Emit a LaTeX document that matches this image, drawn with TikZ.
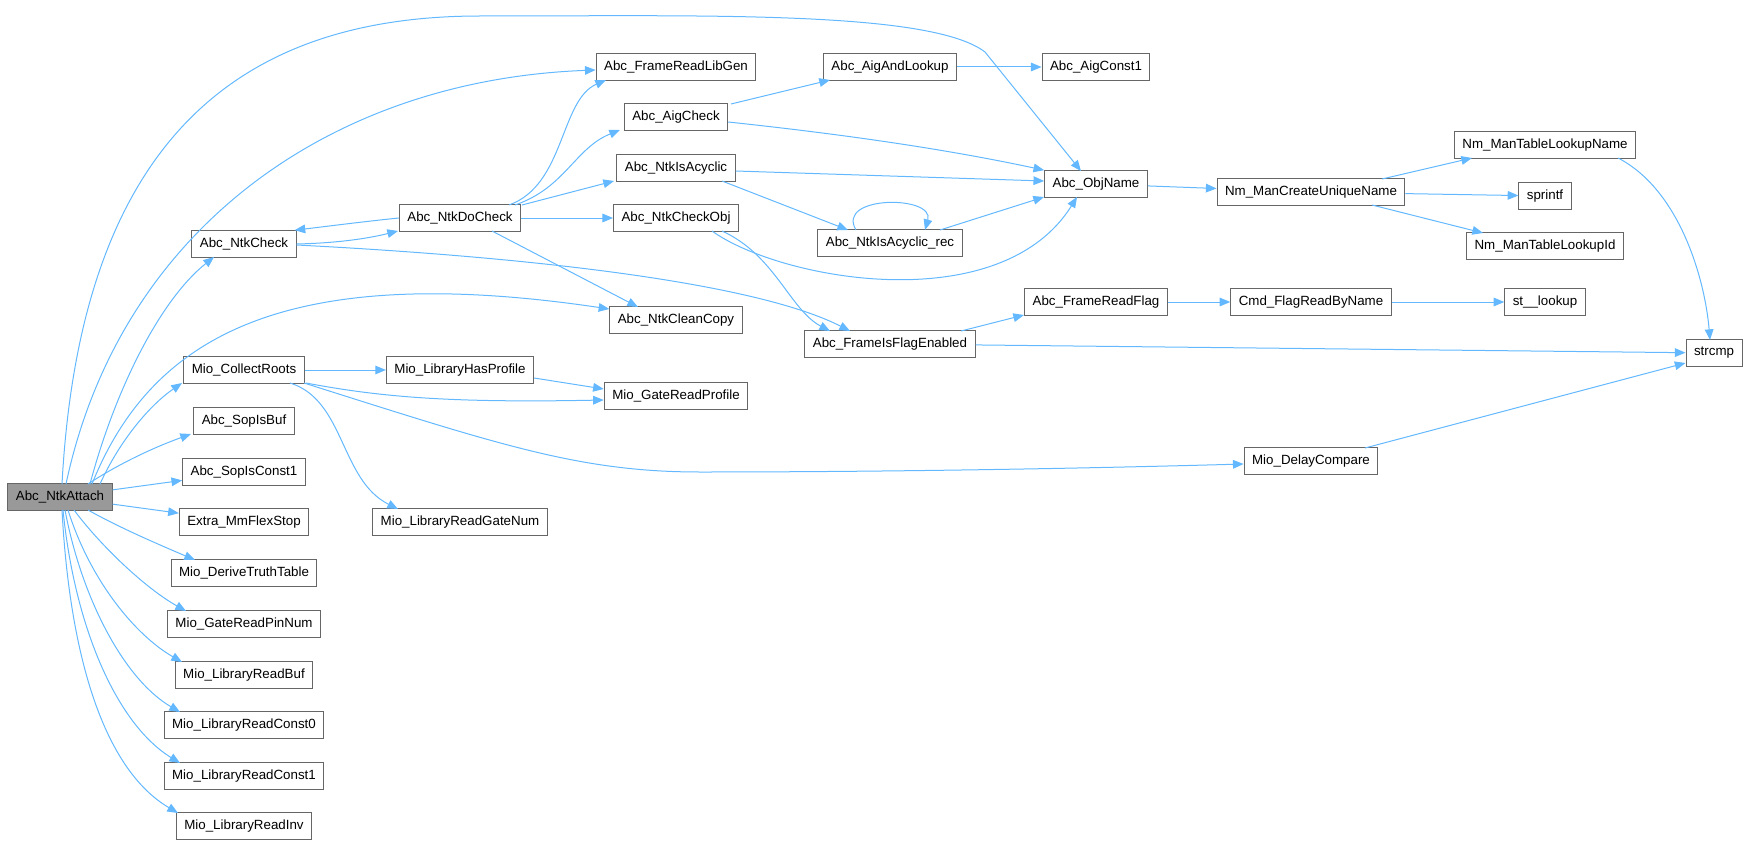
\documentclass[tikz,border=0pt]{standalone}
\usepackage{fontspec}
\setmainfont{Liberation Sans}
\usetikzlibrary{arrows.meta,calc}
\definecolor{edgeblue}{HTML}{63B8FF}
\definecolor{boxline}{HTML}{666666}
\definecolor{rootfill}{HTML}{999999}
\begin{document}
\begin{tikzpicture}[x=0.75pt,y=-0.75pt,
  fnnode/.style={rectangle, draw=boxline, fill=white, line width=0.75pt, inner xsep=6pt, inner ysep=0pt, minimum height=20pt, font=\fontsize{10}{12}\selectfont},
  rootnode/.style={fnnode, fill=rootfill},
  call/.style={-{Triangle[length=8pt,width=6.5pt]}, color=edgeblue, line width=0.75pt}]
  \useasboundingbox (0,0) rectangle (1751,845);
  \node[rootnode] at (60,497) (attach) {Abc\_NtkAttach};
  \node[fnnode] at (244,244) (ntkcheck) {Abc\_NtkCheck};
  \node[fnnode] at (244,370) (collectroots) {Mio\_CollectRoots};
  \node[fnnode] at (244,421) (sopisbuf) {Abc\_SopIsBuf};
  \node[fnnode] at (244,472) (sopisconst1) {Abc\_SopIsConst1};
  \node[fnnode] at (244,522) (flexstop) {Extra\_MmFlexStop};
  \node[fnnode] at (244,573) (derivetruth) {Mio\_DeriveTruthTable};
  \node[fnnode] at (244,624) (pinnum) {Mio\_GateReadPinNum};
  \node[fnnode] at (244,675) (readbuf) {Mio\_LibraryReadBuf};
  \node[fnnode] at (244,725) (const0) {Mio\_LibraryReadConst0};
  \node[fnnode] at (244,776) (const1) {Mio\_LibraryReadConst1};
  \node[fnnode] at (244,826) (readinv) {Mio\_LibraryReadInv};
  \node[fnnode] at (460,218) (dochk) {Abc\_NtkDoCheck};
  \node[fnnode] at (460,370) (hasprofile) {Mio\_LibraryHasProfile};
  \node[fnnode] at (460,522) (gatenum) {Mio\_LibraryReadGateNum};
  \node[fnnode] at (676,67) (readlibgen) {Abc\_FrameReadLibGen};
  \node[fnnode] at (676,117) (aigcheck) {Abc\_AigCheck};
  \node[fnnode] at (676,168) (isacyclic) {Abc\_NtkIsAcyclic};
  \node[fnnode] at (676,218) (checkobj) {Abc\_NtkCheckObj};
  \node[fnnode] at (676,320) (cleancopy) {Abc\_NtkCleanCopy};
  \node[fnnode] at (676,396) (readprofile) {Mio\_GateReadProfile};
  \node[fnnode] at (890,67) (andlookup) {Abc\_AigAndLookup};
  \node[fnnode] at (890,243) (acyclicrec) {Abc\_NtkIsAcyclic\_rec};
  \node[fnnode] at (890,344) (flagenabled) {Abc\_FrameIsFlagEnabled};
  \node[fnnode] at (1096,67) (aigconst1) {Abc\_AigConst1};
  \node[fnnode] at (1096,184) (objname) {Abc\_ObjName};
  \node[fnnode] at (1096,302) (readflag) {Abc\_FrameReadFlag};
  \node[fnnode] at (1311,192) (uniquename) {Nm\_ManCreateUniqueName};
  \node[fnnode] at (1311,302) (flagbyname) {Cmd\_FlagReadByName};
  \node[fnnode] at (1311,461) (delaycompare) {Mio\_DelayCompare};
  \node[fnnode] at (1545,145) (lookupname) {Nm\_ManTableLookupName};
  \node[fnnode] at (1545,196) (sprintf) {sprintf};
  \node[fnnode] at (1545,246) (lookupid) {Nm\_ManTableLookupId};
  \node[fnnode] at (1545,302) (stlookup) {st\_\_lookup};
  \node[fnnode] at (1714,353) (strcmp) {strcmp};
  % Lines from the root
  \draw[call] ($(attach)+(2,-13)$) .. controls (80,150) and (230,16) .. (480,16) .. controls (700,16) and (930,10) .. (985,52) -- ($(objname)+(-15,-13)$);
  \draw[call] ($(attach)+(6,-13)$) .. controls (120,230) and (330,80) .. ($(readlibgen.west)+(0,3)$);
  \draw[call] ($(attach)+(30,-13)$) .. controls (115,390) and (160,300) .. ($(ntkcheck)+(-30,13)$);
  \draw[call] ($(attach)+(32,-13)$) .. controls (150,340) and (280,260) .. ($(cleancopy.west)+(0,-11)$);
  \draw[call] ($(attach)+(40,-13)$) .. controls (120,440) and (150,405) .. ($(collectroots)+(-62,13)$);
  \draw[call] ($(attach)+(28,-13)$) .. controls (120,463) and (155,447) .. ($(sopisbuf)+(-53,13)$);
  \draw[call] (attach) -- (sopisconst1);
  \draw[call] (attach) -- (flexstop);
  \draw[call] ($(attach)+(28,13)$) .. controls (120,528) and (160,545) .. ($(derivetruth)+(-49,-13)$);
  \draw[call] ($(attach)+(14,13)$) .. controls (100,545) and (145,588) .. ($(pinnum)+(-58,-13)$);
  \draw[call] ($(attach)+(8,13)$) .. controls (90,580) and (135,635) .. ($(readbuf)+(-62,-13)$);
  \draw[call] ($(attach)+(5,13)$) .. controls (82,600) and (125,680) .. ($(const0)+(-64,-13)$);
  \draw[call] ($(attach)+(3,13)$) .. controls (75,630) and (118,725) .. ($(const1)+(-64,-13)$);
  \draw[call] ($(attach)+(2,13)$) .. controls (70,660) and (105,770) .. ($(readinv)+(-66,-13)$);
  % Checker lines
  \draw[call] (ntkcheck.east) .. controls (340,243) and (370,238) .. ($(dochk)+(-62,13)$);
  \draw[call] (dochk.west) .. controls (360,222) and (330,226) .. ($(ntkcheck.north east)+(-2,0)$);
  \draw[call] ($(ntkcheck.east)+(0,1)$) .. controls (550,258) and (760,285) .. ($(flagenabled)+(-40,-13)$);
  \draw[call] ($(dochk)+(49,-13)$) .. controls (565,185) and (560,100) .. ($(readlibgen)+(-70,13)$);
  \draw[call] ($(dochk)+(55,-13)$) .. controls (565,188) and (575,148) .. ($(aigcheck)+(-56,13)$);
  \draw[call] ($(dochk)+(62,-13)$) -- ($(isacyclic)+(-62,13)$);
  \draw[call] (dochk) -- (checkobj);
  \draw[call] ($(dochk)+(32,13)$) -- ($(cleancopy)+(-38,-13)$);
  \draw[call] ($(aigcheck)+(55,-13)$) -- ($(andlookup)+(-60,13)$);
  \draw[call] ($(aigcheck.east)+(0,5)$) .. controls (850,135) and (950,150) .. (objname.north west);
  \draw[call] (andlookup) -- (aigconst1);
  \draw[call] ($(isacyclic.east)+(0,3)$) -- ($(objname.west)+(0,-3)$);
  \draw[call] ($(isacyclic)+(46,13)$) -- ($(acyclicrec)+(-42,-13)$);
  \draw[call] ($(acyclicrec)+(-34,-13)$) .. controls (835,195) and (935,195) .. ($(acyclicrec)+(35,-13)$);
  \draw[call] ($(acyclicrec)+(50,-13)$) -- ($(objname)+(-52,13)$);
  \draw[call] ($(checkobj)+(36,13)$) .. controls (780,280) and (1000,320) .. ($(objname)+(-19,13)$);
  \draw[call] ($(checkobj)+(46,13)$) .. controls (775,255) and (790,310) .. ($(flagenabled)+(-60,-13)$);
  \draw[call] (objname) -- (uniquename);
  \draw[call] ($(uniquename)+(71,-13)$) -- ($(lookupname)+(-73,13)$);
  \draw[call] (uniquename) -- (sprintf);
  \draw[call] ($(uniquename)+(61,13)$) -- ($(lookupid)+(-62,-13)$);
  \draw[call] ($(lookupname)+(73,13)$) .. controls (1680,190) and (1705,280) .. ($(strcmp)+(-4,-13)$);
  \draw[call] ($(flagenabled)+(71,-13)$) -- ($(readflag)+(-72,13)$);
  \draw[call] (flagenabled) -- (strcmp);
  \draw[call] (readflag) -- (flagbyname);
  \draw[call] (flagbyname) -- (stlookup);
  % Library lines
  \draw[call] (collectroots) -- (hasprofile);
  \draw[call] ($(collectroots)+(62,13)$) .. controls (380,397) and (450,403) .. ($(readprofile.west)+(0,4)$);
  \draw[call] ($(hasprofile.east)+(0,8)$) -- ($(readprofile.west)+(0,-7)$);
  \draw[call] ($(collectroots)+(46,13)$) .. controls (345,400) and (340,480) .. ($(gatenum)+(-62,-13)$);
  \draw[call] ($(collectroots)+(60,13)$) .. controls (500,445) and (580,472) .. (700,472) .. controls (900,472) and (1100,468) .. ($(delaycompare.west)+(0,3)$);
  \draw[call] ($(delaycompare)+(54,-13)$) -- ($(strcmp.west)+(0,10)$);
\end{tikzpicture}
\end{document}
